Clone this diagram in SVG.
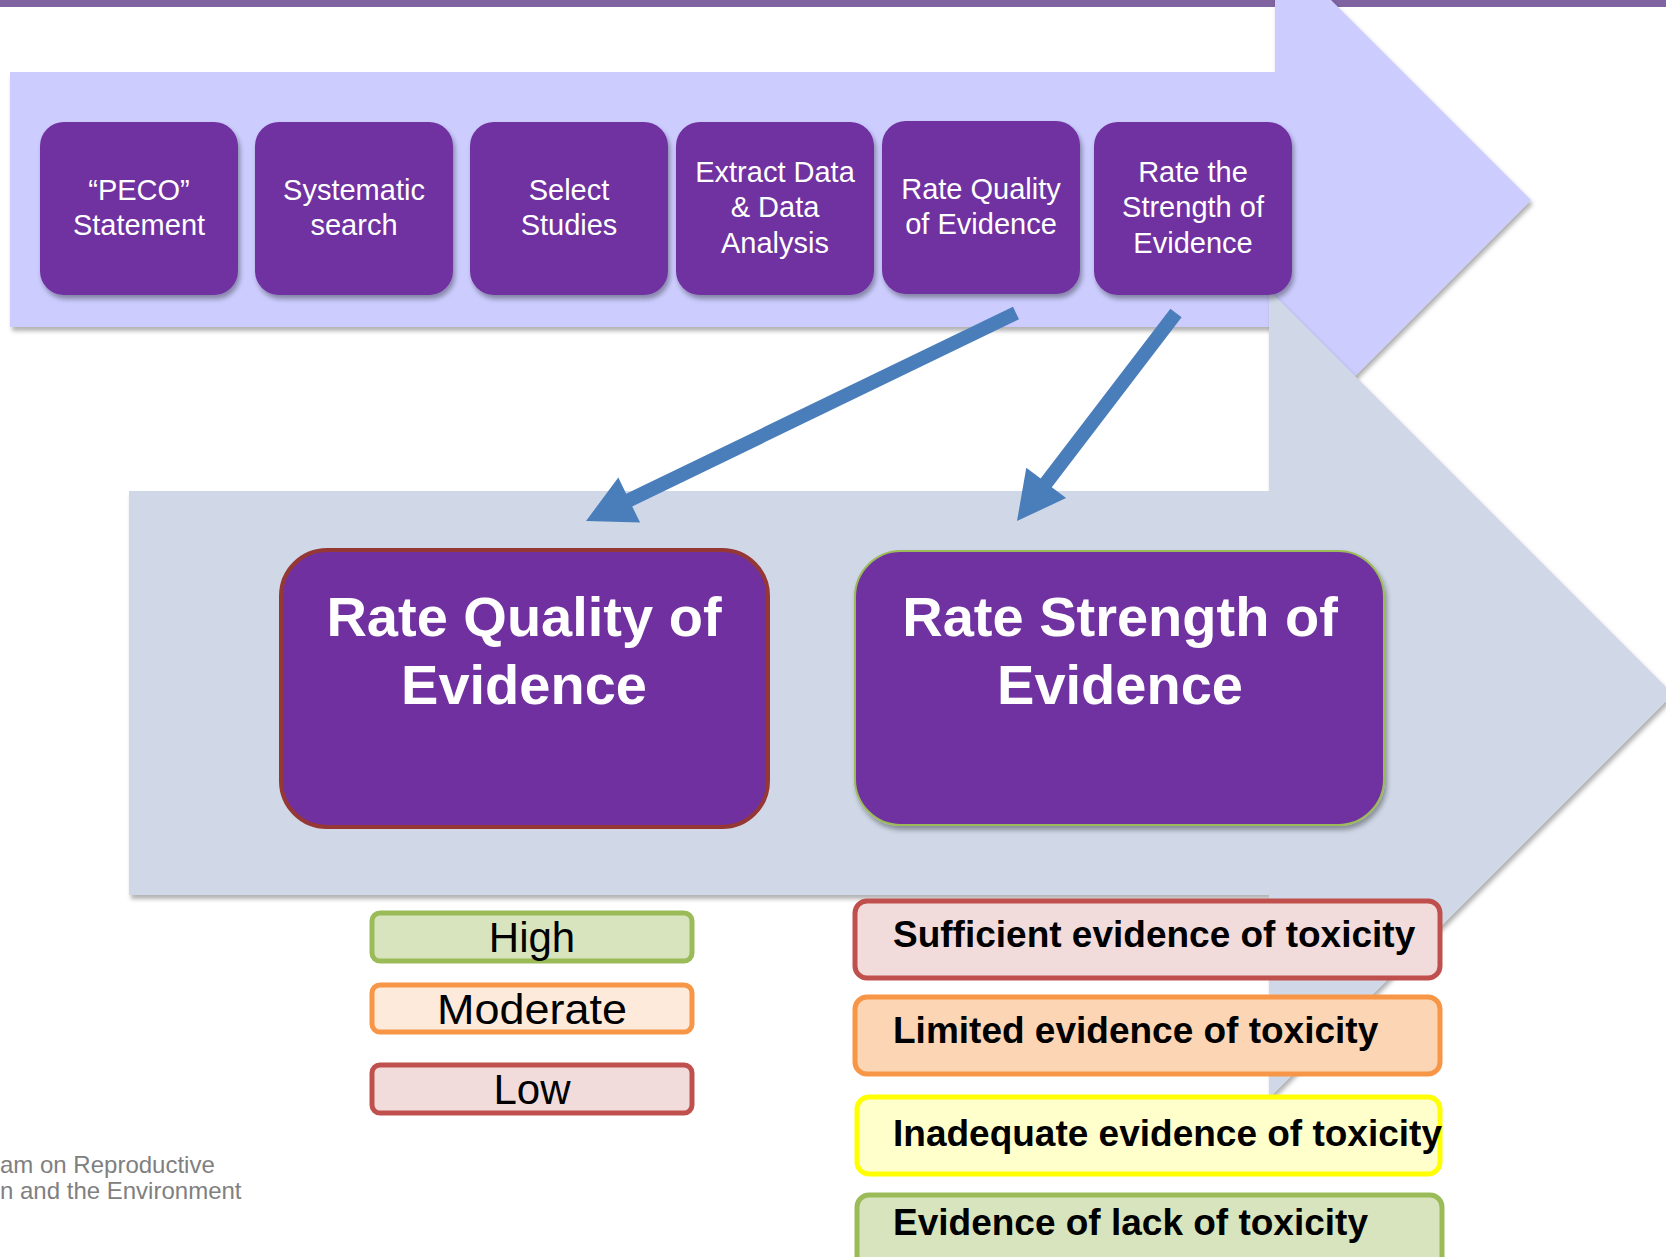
<svg xmlns="http://www.w3.org/2000/svg" width="1666" height="1257" viewBox="0 0 1666 1257">
<defs>
<filter id="sh" x="-10%" y="-10%" width="130%" height="130%">
<feDropShadow dx="2" dy="4" stdDeviation="2.5" flood-color="#000" flood-opacity="0.35"/>
</filter>
<filter id="shb" x="-10%" y="-10%" width="130%" height="130%">
<feDropShadow dx="2" dy="4" stdDeviation="2" flood-color="#000" flood-opacity="0.3"/>
</filter>
</defs>
<style>
.step{fill:#7030A0;}
.st{font-family:"Liberation Sans",Arial,sans-serif;font-size:29px;fill:#fff;text-anchor:middle;}
.big{font-family:"Liberation Sans",Arial,sans-serif;font-size:56px;font-weight:bold;fill:#fff;text-anchor:middle;}
.lg{font-family:"Liberation Sans",Arial,sans-serif;font-size:42px;fill:#000;text-anchor:middle;}
.lr{font-family:"Liberation Sans",Arial,sans-serif;font-size:37px;font-weight:bold;fill:#000;}
.ft{font-family:"Liberation Sans",Arial,sans-serif;font-size:24px;fill:#808080;}
</style>
<rect x="0" y="0" width="1666" height="7" fill="#8064A2"/>
<g id="upper-arrow">
<polygon points="10,72 1275,72 1275,-56 1531,200 1275,456 1275,327 10,327" fill="#CCCCFF" filter="url(#shb)"/>
</g>
<g id="lower-arrow">
<polygon points="129,491 1269,491 1269,290 1673,694 1269,1098 1269,895 129,895" fill="#D0D8E8" filter="url(#shb)"/>
</g>
<g id="peco">
<rect class="step" x="40" y="122" width="198" height="173" rx="24" filter="url(#sh)"/>
<text class="st" x="139" y="200">“PECO”</text>
<text class="st" x="139" y="235">Statement</text>
</g>
<g id="search">
<rect class="step" x="255" y="122" width="198" height="173" rx="24" filter="url(#sh)"/>
<text class="st" x="354" y="200">Systematic</text>
<text class="st" x="354" y="235">search</text>
</g>
<g id="select">
<rect class="step" x="470" y="122" width="198" height="173" rx="24" filter="url(#sh)"/>
<text class="st" x="569" y="200">Select</text>
<text class="st" x="569" y="235">Studies</text>
</g>
<g id="extract">
<rect class="step" x="676" y="122" width="198" height="173" rx="24" filter="url(#sh)"/>
<text class="st" x="775" y="182">Extract Data</text>
<text class="st" x="775" y="217">&amp; Data</text>
<text class="st" x="775" y="253">Analysis</text>
</g>
<g id="quality">
<rect class="step" x="882" y="121" width="198" height="173" rx="24" filter="url(#sh)"/>
<text class="st" x="981" y="199">Rate Quality</text>
<text class="st" x="981" y="234">of Evidence</text>
</g>
<g id="strength">
<rect class="step" x="1094" y="122" width="198" height="173" rx="24" filter="url(#sh)"/>
<text class="st" x="1193" y="182">Rate the</text>
<text class="st" x="1193" y="217">Strength of</text>
<text class="st" x="1193" y="253">Evidence</text>
</g>
<g id="connectors" fill="#4A7EBB">
<polygon points="1013.0,306.7 1019.0,319.3 632.2,506.4 640.1,522.6 586,521 618.3,477.6 626.2,493.8"/>
<polygon points="1170.4,308.7 1181.6,317.3 1051.8,487.2 1066.1,498.1 1017,521 1026.3,467.7 1040.6,478.6"/>
</g>
<g id="rate-quality">
<rect x="281" y="550" width="487" height="277" rx="46" fill="#7030A0" stroke="#953735" stroke-width="4"/>
<text class="big" x="524" y="636">Rate Quality of</text>
<text class="big" x="524" y="704">Evidence</text>
</g>
<g id="rate-strength">
<rect x="855" y="551" width="529" height="274" rx="46" fill="#7030A0" stroke="#9BBB59" stroke-width="2" filter="url(#sh)"/>
<text class="big" x="1120" y="636">Rate Strength of</text>
<text class="big" x="1120" y="704">Evidence</text>
</g>
<g id="high">
<rect x="372" y="913" width="320" height="48" rx="8" fill="#D7E4BD" stroke="#9BBB59" stroke-width="5"/>
<text class="lg" x="532" y="952">High</text>
</g>
<g id="moderate">
<rect x="372" y="985" width="320" height="47" rx="8" fill="#FDEADA" stroke="#F79646" stroke-width="5"/>
<text class="lg" x="532" y="1024" textLength="190" lengthAdjust="spacingAndGlyphs">Moderate</text>
</g>
<g id="low">
<rect x="372" y="1065" width="320" height="48" rx="8" fill="#F2DCDB" stroke="#C0504D" stroke-width="5"/>
<text class="lg" x="532" y="1104">Low</text>
</g>
<g id="sufficient">
<rect x="855" y="901" width="585" height="77" rx="12" fill="#F2DCDB" stroke="#C0504D" stroke-width="5"/>
<text class="lr" x="893" y="947">Sufficient evidence of toxicity</text>
</g>
<g id="limited">
<rect x="855" y="997" width="585" height="77" rx="12" fill="#FCD5B5" stroke="#F79646" stroke-width="5"/>
<text class="lr" x="893" y="1043">Limited evidence of toxicity</text>
</g>
<g id="inadequate">
<rect x="857" y="1097" width="583" height="77" rx="12" fill="#FFFFCC" stroke="#FFFF00" stroke-width="5"/>
<text class="lr" x="893" y="1146">Inadequate evidence of toxicity</text>
</g>
<g id="lack">
<rect x="857" y="1195" width="585" height="90" rx="12" fill="#D7E4BD" stroke="#9BBB59" stroke-width="5"/>
<text class="lr" x="893" y="1235">Evidence of lack of toxicity</text>
</g>
<g id="footer">
<text class="ft" x="0" y="1173">am on Reproductive</text>
<text class="ft" x="0" y="1199">n and the Environment</text>
</g>
</svg>
